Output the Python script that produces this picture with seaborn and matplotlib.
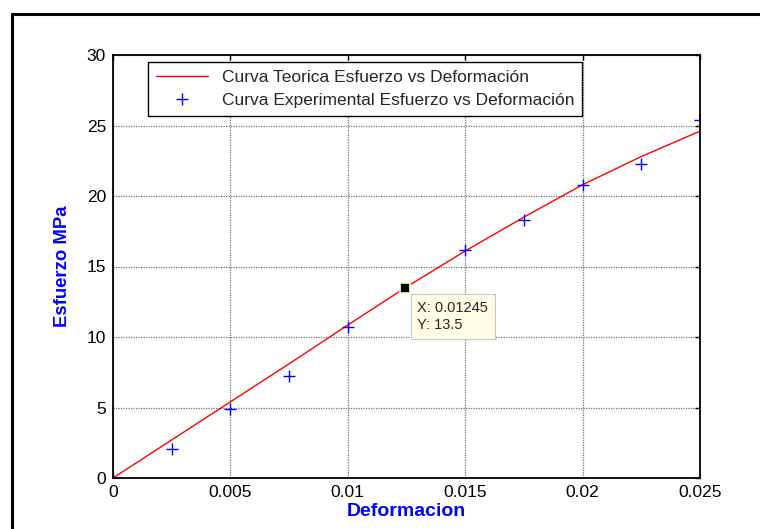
import numpy as np
import pandas as pd
import seaborn as sns
import matplotlib.pyplot as plt
from matplotlib.lines import Line2D

# --- data
deformacion_teo = [0, 0.0025, 0.005, 0.0075, 0.01, 0.0125, 0.015, 0.0175, 0.02, 0.0225, 0.025]
esfuerzo_teo = [0, 2.7, 5.4, 8.1, 10.85, 13.55, 16.1, 18.5, 20.8, 22.8, 24.6]

deformacion_exp = [0, 0.0025, 0.005, 0.0075, 0.01, 0.015, 0.0175, 0.02, 0.0225, 0.025]
esfuerzo_exp = [0, 2.05, 4.9, 7.2, 10.7, 16.2, 18.3, 20.75, 22.25, 25.4]

tip_x = 0.01245
tip_y = 13.5

x_ticks = [0, 0.005, 0.01, 0.015, 0.02, 0.025]
x_labels = ["0", "0.005", "0.01", "0.015", "0.02", "0.025"]
y_ticks = [0, 5, 10, 15, 20, 25, 30]

label_teo = "Curva Teorica Esfuerzo vs Deformación"
label_exp = "Curva Experimental Esfuerzo vs Deformación"

df_teo = pd.DataFrame({"x": deformacion_teo, "y": esfuerzo_teo})
df_exp = pd.DataFrame({"x": deformacion_exp, "y": esfuerzo_exp})

# --- plotting
sns.set_style("white")
plt.rcParams["font.family"] = ["Liberation Sans", "DejaVu Sans"]

fig = plt.figure(figsize=(7.6, 5.29), dpi=100)
ax = fig.add_axes([113 / 760, 51 / 529, 587 / 760, 423 / 529])

sns.lineplot(data=df_teo, x="x", y="y", ax=ax, color="red", linewidth=1.0,
             label=label_teo)
ax.plot(df_exp["x"], df_exp["y"], linestyle="none", marker="+", color="blue",
        markersize=9, markeredgewidth=1.0, label=label_exp)

# data tip
ax.plot([tip_x], [tip_y], marker="s", markersize=7, color="black",
        markeredgecolor="#FFFFC8", markeredgewidth=1.2, zorder=5)
ax.annotate("X: 0.01245\nY: 13.5", xy=(tip_x, tip_y), xytext=(12, -13),
            textcoords="offset pixels", ha="left", va="top", fontsize=10.5,
            linespacing=1.3,
            bbox=dict(boxstyle="square,pad=0.45", facecolor="#FFFFE6",
                      edgecolor="#C8C8C8", linewidth=0.8), zorder=6)

ax.set_xlim(0, 0.025)
ax.set_ylim(0, 30)
ax.set_xticks(x_ticks)
ax.set_xticklabels(x_labels)
ax.set_yticks(y_ticks)
ax.grid(True, linestyle=(0, (1, 1)), color="0.45", linewidth=0.9)
ax.tick_params(direction="in", length=3.5, width=1, top=True, right=True,
               labelsize=12.5, colors="black", pad=5)
for s in ax.spines.values():
    s.set_visible(True)
    s.set_color("black")
    s.set_linewidth(1.3)

ax.set_xlabel("Deformacion", color="blue", fontweight="bold", fontsize=14, labelpad=2)
ax.set_ylabel("Esfuerzo MPa", color="blue", fontweight="bold", fontsize=13.3, labelpad=11)

leg = ax.legend(loc="upper left", bbox_to_anchor=(0.06, 0.984), borderaxespad=0,
                fancybox=False, framealpha=1, edgecolor="black", fontsize=12.5,
                handlelength=3.0, borderpad=0.45, labelspacing=0.45)
leg.get_frame().set_linewidth(1.0)

# outer frame (top and left edges)
fig.add_artist(Line2D([12 / 760, 1], [1 - 14 / 529, 1 - 14 / 529], color="black",
                      linewidth=2.2, transform=fig.transFigure))
fig.add_artist(Line2D([12 / 760, 12 / 760], [0, 1 - 14 / 529], color="black",
                      linewidth=2.2, transform=fig.transFigure))

plt.savefig("out.png", dpi=100)
